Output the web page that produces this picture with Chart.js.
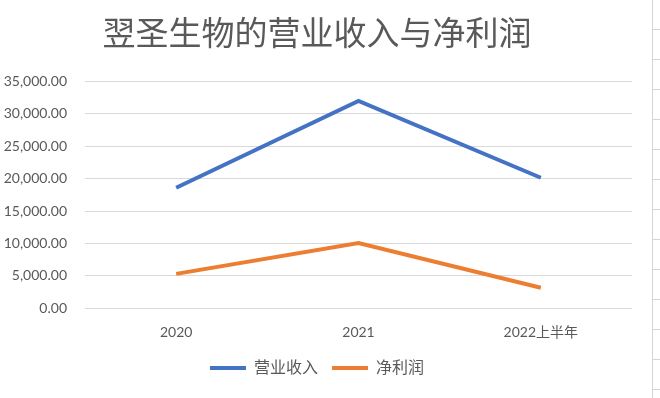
<!DOCTYPE html>
<html>
<head>
<meta charset="utf-8">
<script src="https://cdn.jsdelivr.net/npm/chart.js@4/dist/chart.umd.min.js"></script>
<style>
  html, body { margin: 0; padding: 0; background: #fff; }
  #wrap { position: relative; width: 660px; height: 398px; overflow: hidden; }
  /* 右侧表格边线 */
  #edge {
    position: absolute; left: 652px; top: 0; width: 8px; height: 398px;
    border-left: 1px solid #d4d4d4;
    background: repeating-linear-gradient(to bottom, transparent 0, transparent 29px, #d4d4d4 29px, #d4d4d4 30px);
  }
</style>
</head>
<body>
<div id="wrap">
  <canvas id="chart" width="660" height="398"></canvas>
  <div id="edge"></div>
</div>
<script>
// 数据
const categories = ['2020', '2021', '2022上半年'];
const revenue = [18600, 32000, 20150];   // 营业收入
const netProfit = [5300, 10050, 3150];   // 净利润
const seriesNames = ['营业收入', '净利润'];
const yTicks = [0, 5000, 10000, 15000, 20000, 25000, 30000, 35000];

const fontFamily = "Lato, 'Noto Sans CJK SC', sans-serif";
const textColor = '#595959';

const ctx = document.getElementById('chart').getContext('2d');

new Chart(ctx, {
    type: 'line',
    data: {
        labels: categories,
        datasets: [{
            label: seriesNames[0],
            data: revenue,
            borderColor: '#4472C4',
            backgroundColor: '#4472C4',
            borderWidth: 4,
            pointRadius: 0,
            tension: 0
        }, {
            label: seriesNames[1],
            data: netProfit,
            borderColor: '#ED7D31',
            backgroundColor: '#ED7D31',
            borderWidth: 4,
            pointRadius: 0,
            tension: 0
        }]
    },
    options: {
        responsive: false,
        animation: false,
        layout: {
            padding: { left: 2, right: 28, top: 0, bottom: 12 }
        },
        plugins: {
            title: {
                display: true,
                text: '翌圣生物的营业收入与净利润',
                color: textColor,
                font: { family: "'Noto Sans CJK SC', sans-serif", size: 33, weight: 'normal' },
                padding: { top: 13, bottom: 29 }
            },
            legend: {
                position: 'bottom',
                labels: {
                    usePointStyle: true,
                    pointStyle: 'line',
                    pointStyleWidth: 36,
                    color: textColor,
                    font: { family: fontFamily, size: 16 },
                    padding: 14
                }
            },
            tooltip: { enabled: false }
        },
        scales: {
            x: {
                offset: true,
                grid: { display: false, drawTicks: false },
                border: { display: false },
                afterFit: function(scale) {
                    scale.height = scale.height - 11;
                },
                ticks: {
                    color: textColor,
                    font: { family: fontFamily, size: 14 },
                    padding: 16
                }
            },
            y: {
                min: 0,
                max: 35000,
                afterBuildTicks: function(scale) {
                    scale.ticks = yTicks.map(v => ({ value: v }));
                },
                afterFit: function(scale) {
                    scale.width = 83;
                },
                grid: { color: '#d9d9d9', lineWidth: 1, drawTicks: false },
                border: { display: false },
                ticks: {
                    color: textColor,
                    font: { family: fontFamily, size: 14 },
                    padding: 18,
                    callback: function(value) {
                        return value.toLocaleString('en-US', { minimumFractionDigits: 2, maximumFractionDigits: 2 });
                    }
                }
            }
        }
    }
});
</script>
</body>
</html>
